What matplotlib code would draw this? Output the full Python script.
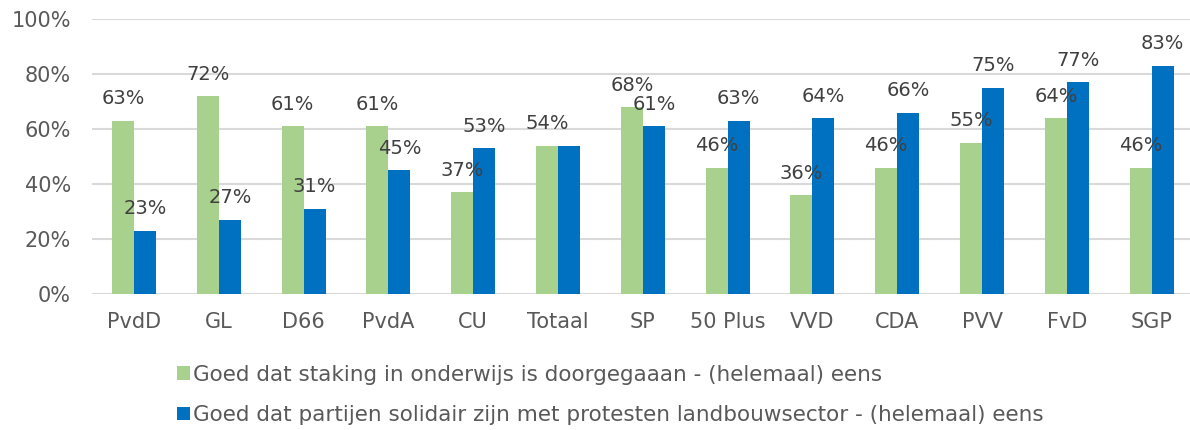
import matplotlib
matplotlib.use("Agg")
import matplotlib.pyplot as plt
import numpy as np

# data
parties = ["PvdD", "GL", "D66", "PvdA", "CU", "Totaal", "SP",
           "50 Plus", "VVD", "CDA", "PVV", "FvD", "SGP"]
staking = [63, 72, 61, 61, 37, 54, 68, 46, 36, 46, 55, 64, 46]
landbouw = [23, 27, 31, 45, 53, 54, 61, 63, 64, 66, 75, 77, 83]
label_staking = "Goed dat staking in onderwijs is doorgegaaan - (helemaal) eens"
label_landbouw = "Goed dat partijen solidair zijn met protesten landbouwsector - (helemaal) eens"

green = "#A9D18E"
blue = "#0070C0"
text_grey = "#595959"
label_grey = "#404040"

plt.rcParams['font.family'] = ['DejaVu Sans']

fig = plt.figure(figsize=(11.9, 4.3), dpi=100)
ax = fig.add_axes([0.077, 0.3156, 0.9264, 0.6402])

x = np.arange(len(parties))
w = 0.26
b1 = ax.bar(x - w / 2, staking, width=w, color=green, label=label_staking, zorder=3)
b2 = ax.bar(x + w / 2, landbouw, width=w, color=blue, label=label_landbouw, zorder=3)

for i in range(len(parties)):
    ax.annotate(f"{staking[i]}%", (x[i] - w / 2, staking[i]), xytext=(0, 9),
                textcoords="offset points", ha="center", va="bottom",
                fontsize=14, color=label_grey)
    # Totaal: both values equal, the reference shows one label
    if landbouw[i] != staking[i]:
        ax.annotate(f"{landbouw[i]}%", (x[i] + w / 2, landbouw[i]), xytext=(0, 9),
                    textcoords="offset points", ha="center", va="bottom",
                    fontsize=14, color=label_grey)

ax.set_xlim(-0.5, len(parties) - 0.5)
ax.set_ylim(0, 100)
ax.set_yticks(range(0, 101, 20))
ax.set_yticklabels([f"{v}%" for v in range(0, 101, 20)])
ax.set_xticks(x)
ax.set_xticklabels(parties)
ax.tick_params(axis="both", length=0, labelsize=15, colors=text_grey)
ax.tick_params(axis="y", pad=15)
ax.tick_params(axis="x", pad=13)
ax.grid(axis="y", color="#D9D9D9", linewidth=1.5, zorder=0)
for s in ax.spines.values():
    s.set_visible(False)

fig.legend(handles=[b1, b2], loc="upper left", bbox_to_anchor=(0.149, 0.152),
           frameon=False, fontsize=15.5, labelcolor=text_grey,
           handlelength=0.6, handleheight=0.6, handletextpad=0.15,
           labelspacing=0.95, borderaxespad=0, borderpad=0)

fig.savefig("out.png", dpi=100)
